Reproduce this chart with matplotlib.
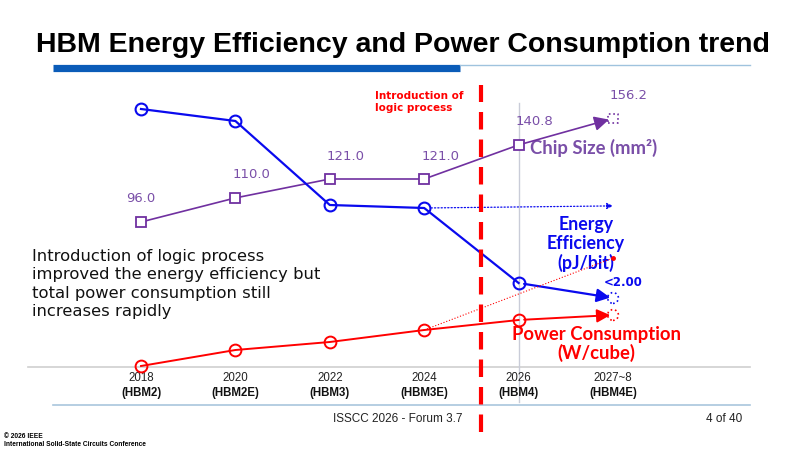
import numpy as np
import matplotlib
matplotlib.use("Agg")
import matplotlib.pyplot as plt
from matplotlib.transforms import blended_transform_factory

# data
years = ["2018", "2020", "2022", "2024", "2026", "2027~8"]
gens = ["(HBM2)", "(HBM2E)", "(HBM3)", "(HBM3E)", "(HBM4)", "(HBM4E)"]
chip_size = [96.0, 110.0, 121.0, 121.0, 140.8, 156.2]     # mm^2
energy = [8.3, 7.9, 5.1, 5.0, 2.5, 2.0]                  # pJ/bit (estimated)
power = [5.0, 13.0, 17.0, 23.0, 28.0, 30.5]              # W/cube (estimated)
energy_no_logic = [5.0, 5.07]                            # flat projection 2024 -> 2027~8
power_trend = [23.0, 59.0]                               # old trend 2024 -> 2027~8

PURPLE = "#7030a0"
PURPLE_TXT = "#7a4fa8"
BLUE = "#0a0aee"
RED = "#ff0000"

fig = plt.figure(figsize=(8, 4.5), dpi=100)

# decoration layer in pixel coords
deco = fig.add_axes([0, 0, 1, 1])
deco.set_xlim(0, 800)
deco.set_ylim(450, 0)
deco.axis("off")

TITLE_FONT = ["Liberation Sans", "DejaVu Sans"]
deco.text(403, 45, "HBM Energy Efficiency and Power Consumption trend",
          ha="center", va="center", fontsize=20.5, fontweight="bold",
          family=TITLE_FONT, color="black")
deco.plot([53, 460], [67.5, 67.5], color="#0b5cb8", lw=5.2, solid_capstyle="butt")
deco.plot([460, 750], [65, 65], color="#9fc3de", lw=1.0)
deco.plot([28, 750], [367, 367], color="#cfcfcf", lw=1.2)
deco.plot([53, 750], [405, 405], color="#a9c6dd", lw=1.2)
deco.plot([519, 519], [103, 402], color="#c9ccd8", lw=1.0)

deco.text(398, 419, "ISSCC 2026 - Forum 3.7", ha="center", va="center",
          fontsize=8.5, family=TITLE_FONT, color="#222222")
deco.text(742, 419, "4 of 40", ha="right", va="center",
          fontsize=8.5, family=TITLE_FONT, color="#222222")
deco.text(4, 437, "\u00a9 2026 IEEE", ha="left", va="center", fontsize=4.8,
          fontweight="bold", family=TITLE_FONT)
deco.text(4, 444, "International Solid-State Circuits Conference", ha="left",
          va="center", fontsize=4.8, fontweight="bold", family=TITLE_FONT)

deco.text(32, 284, "Introduction of logic process\nimproved the energy efficiency but\n"
          "total power consumption still\nincreases rapidly",
          ha="left", va="center", fontsize=11.8, linespacing=1.3,
          family="DejaVu Sans", color="#111111")

deco.text(375, 102, "Introduction of\nlogic process", ha="left", va="center",
          fontsize=7.5, fontweight="bold", color=RED, linespacing=1.2)

LBL_FONT = ["Lato", "DejaVu Sans"]
deco.text(530, 148, "Chip Size (mm\u00b2)", ha="left", va="center", fontsize=13.3,
          fontweight="bold", family=LBL_FONT, color=PURPLE_TXT)
deco.text(586, 244, "Energy\nEfficiency\n(pJ/bit)", ha="center", va="center",
          fontsize=12.8, fontweight="bold", family=LBL_FONT, color=BLUE,
          linespacing=1.1)
deco.text(623, 283, "<2.00", ha="center", va="center", fontsize=8.5,
          fontweight="bold", color=BLUE)
deco.text(596, 344, "Power Consumption\n(W/cube)", ha="center", va="center",
          fontsize=13.3, fontweight="bold", family=LBL_FONT, color=RED,
          linespacing=1.05)

# data axes, sharing the category x scale
ax = fig.add_axes([0, 0, 1, 1])
ax.set_xlim(-141 / 94.4, (800 - 141) / 94.4)
ax.set_ylim(96 - 228 / 1.72, 96 + 222 / 1.72)
ax.axis("off")
ax_e = ax.twinx()
ax_e.set_ylim(2 - 152 / 30, 2 + 298 / 30)
ax_e.axis("off")
ax_p = ax.twinx()
ax_p.set_ylim(5 - 84 / 2, 5 + 366 / 2)
ax_p.axis("off")

x = np.arange(len(years))
n = len(years) - 1

# chip size
ax.plot(x[:n], chip_size[:n], color=PURPLE, lw=1.2, marker="s", ms=6.5,
        mfc="white", mec=PURPLE, mew=1.3)
ax.annotate("", xy=(x[n], chip_size[n]), xytext=(x[n - 1], chip_size[n - 1]),
            arrowprops=dict(arrowstyle="-|>", color=PURPLE, lw=1.2,
                            mutation_scale=22, shrinkA=4, shrinkB=3))
ax.scatter([x[n]], [chip_size[n]], marker="s", s=45, facecolors="none",
           edgecolors=PURPLE, linestyles=":", linewidths=1.2)
for i, v in enumerate(chip_size):
    dx = 0 if i == 0 else 16
    ax.annotate(f"{v:.1f}", (x[i], v), xytext=(dx, 23), textcoords="offset pixels",
                ha="center", va="center", fontsize=9.5, color=PURPLE_TXT)

# energy efficiency
ax_e.annotate("", xy=(x[n], energy_no_logic[1]), xytext=(x[3], energy_no_logic[0]),
              arrowprops=dict(arrowstyle="-|>", color=BLUE, lw=0.9, ls=":",
                              mutation_scale=9, shrinkA=5, shrinkB=0))
ax_e.plot(x[:n], energy[:n], color=BLUE, lw=1.6, marker="o", ms=8.5,
          mfc="none", mec=BLUE, mew=1.5)
ax_e.annotate("", xy=(x[n], energy[n]), xytext=(x[n - 1], energy[n - 1]),
              arrowprops=dict(arrowstyle="-|>", color=BLUE, lw=1.6,
                              mutation_scale=20, shrinkA=4, shrinkB=2))
ax_e.scatter([x[n]], [energy[n]], marker="o", s=60, facecolors="none",
             edgecolors=BLUE, linestyles=":", linewidths=1.2)

# power consumption
ax_p.plot([x[3], x[n]], power_trend, color=RED, lw=0.8, ls=":")
ax_p.plot([x[n]], [power_trend[1]], marker="o", ms=2.5, color=RED, ls="none")
ax_p.plot(x[:n], power[:n], color=RED, lw=1.4, marker="o", ms=8.5,
          mfc="none", mec=RED, mew=1.4, clip_on=False)
ax_p.annotate("", xy=(x[n], power[n]), xytext=(x[n - 1], power[n - 1]),
              arrowprops=dict(arrowstyle="-|>", color=RED, lw=1.4,
                              mutation_scale=20, shrinkA=4, shrinkB=2))
ax_p.scatter([x[n]], [power[n]], marker="o", s=60, facecolors="none",
             edgecolors=RED, linestyles=":", linewidths=1.2)

# logic process boundary
ax_p.axvline((481 - 141) / 94.4, ymin=1 - 432 / 450, ymax=1 - 85 / 450,
             color=RED, lw=3.0, dashes=(4.2, 2.4))

# category labels
tr = blended_transform_factory(ax.transData, ax.transAxes)
for i in range(len(years)):
    ax.text(x[i], 1 - 378 / 450, years[i], transform=tr, ha="center", va="center",
            fontsize=8.3, family=TITLE_FONT, color="#222222")
    ax.text(x[i], 1 - 393 / 450, gens[i], transform=tr, ha="center", va="center",
            fontsize=8.3, fontweight="bold", family=TITLE_FONT, color="#111111")

fig.savefig("out.png", dpi=100)
